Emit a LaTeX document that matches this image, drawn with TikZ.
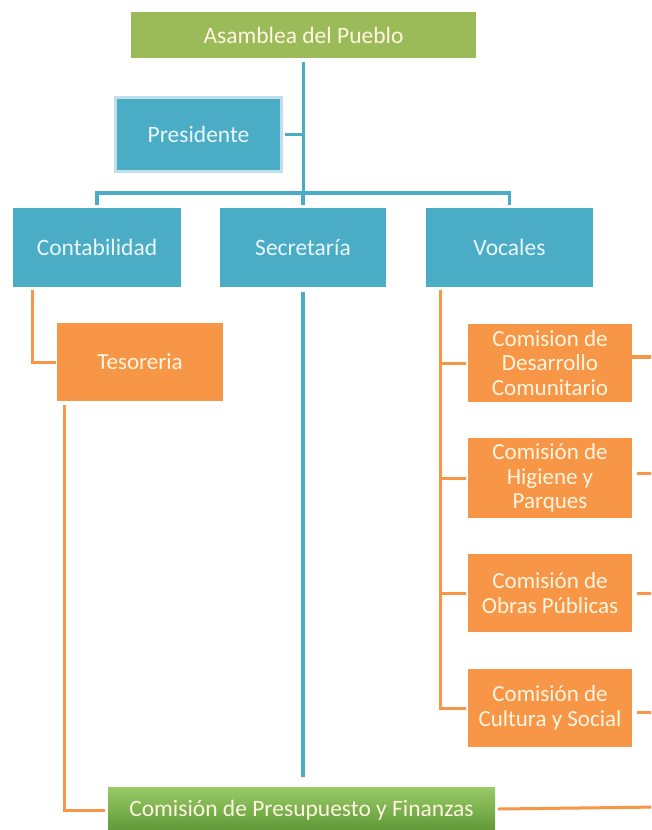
\documentclass[tikz,border=0pt]{standalone}
\usepackage{fontspec}
\setmainfont{Carlito}
\begin{document}
\begin{tikzpicture}[x=1pt,y=-1pt,
  box/.style={rectangle, inner sep=2pt, align=center, font=\fontsize{23.5}{24.5}\selectfont},
  bluebox/.style={box, fill=cblue, text=ctextb},
  orbox/.style={box, fill=corange, text=ctexto, font=\fontsize{23}{24.5}\selectfont},
  grbox/.style={box, fill=cgreen, text=ctexto},
  bline/.style={draw=cblue, line width=3.5pt},
  oline/.style={draw=corange, line width=3pt},
]
\definecolor{cblue}{HTML}{4BACC6}
\definecolor{corange}{HTML}{F79646}
\definecolor{cgreen}{HTML}{9BBB59}
\definecolor{ctextb}{HTML}{EAF7FB}
\definecolor{ctexto}{HTML}{FFF6E2}
\definecolor{cborder}{HTML}{BFE0EA}
\clip (0,0) rectangle (651,830);
\fill[white] (0,0) rectangle (651,830);

\node[grbox, minimum width=345pt, minimum height=46pt] (asam) at (303.5,35) {Asamblea del Pueblo};
\node[bluebox, draw=cborder, line width=3pt, minimum width=166pt, minimum height=74pt] (pres) at (198.5,134.5) {Presidente};
\node[bluebox, minimum width=168pt, minimum height=79pt] (conta) at (97,247.5) {Contabilidad};
\node[bluebox, minimum width=166pt, minimum height=79pt] (secr) at (303,247.5) {Secretaría};
\node[bluebox, minimum width=167pt, minimum height=79pt] (voc) at (509.5,247.5) {Vocales};
\node[orbox, minimum width=166pt, minimum height=78pt] (teso) at (140,362) {Tesoreria};
\node[orbox, minimum width=164pt, minimum height=78pt] (desa) at (550,363) {Comision de\\Desarrollo\\Comunitario};
\node[orbox, minimum width=164pt, minimum height=80pt] (hig) at (550,478) {Comisión de\\Higiene y\\Parques};
\node[orbox, minimum width=164pt, minimum height=78pt] (obr) at (550,593) {Comisión de\\Obras Públicas};
\node[orbox, minimum width=164pt, minimum height=78pt] (cult) at (550,708) {Comisión de\\Cultura y Social};
\node[box, top color=cgreen!85!white!90!green, bottom color=cgreen!70!black!85!green, text=ctexto, minimum width=387pt, minimum height=46pt] (presu) at (301.5,810) {Comisión de Presupuesto y Finanzas};

\coordinate (bus) at (302,193);
\coordinate (rb) at (660,0);

% blue connectors
\draw[bline] ([yshift=-4pt]asam.south) -- (asam.south |- bus);
\draw[bline] ([xshift=2pt]pres.east) -- (pres.east -| asam.south);
\draw[bline] ([yshift=3pt]conta.north) |- (bus) -| ([yshift=3pt]voc.north);
\draw[bline] ([yshift=3pt]secr.north) -- (secr.north |- bus);
\draw[bline] ([yshift=-5pt]secr.south) -- ([yshift=10pt]secr.south |- presu.north);

% orange connectors
\draw[oline] ([xshift=-65pt,yshift=-3pt]conta.south) |- ([xshift=-1pt]teso.west);
\draw[oline] ([xshift=-76pt,yshift=-4pt]teso.south) |- ([xshift=-3pt]presu.west);
\coordinate (vtop) at ([xshift=-69pt,yshift=-3pt]voc.south);
\draw[oline] (vtop) |- ([xshift=-2pt]cult.west);
\foreach \n in {desa,hig,obr} \draw[oline] ([xshift=-2pt]\n.west) -- (\n.west -| vtop);

% right stubs
\draw[oline, line width=4pt] ([yshift=6pt]desa.east) -- ([yshift=6pt]desa.east -| rb);
\draw[oline] ([xshift=5pt,yshift=5pt]hig.east) -- ([yshift=5pt]hig.east -| rb);
\draw[oline] ([xshift=5pt]obr.east) -- (obr.east -| rb);
\draw[oline] ([xshift=5pt,yshift=-4pt]cult.east) -- ([yshift=-4pt]cult.east -| rb);
\draw[oline] ([xshift=3pt,yshift=1pt]presu.east) -- ([yshift=3pt]presu.east -| rb);
\end{tikzpicture}
\end{document}
